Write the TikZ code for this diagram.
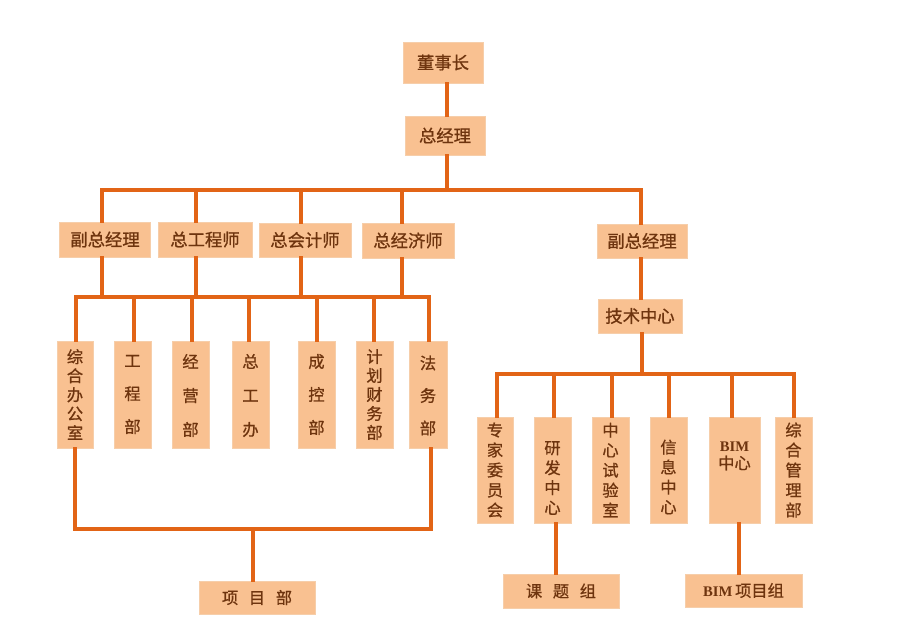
\documentclass[tikz,border=0pt]{standalone}
\usepackage{fontspec}
\setmainfont{Noto Sans CJK SC}[FakeBold=0.8]
\newfontfamily\bimfont{Liberation Serif}
\definecolor{boxfill}{RGB}{249,193,145}
\definecolor{boxedge}{RGB}{246,206,170}
\definecolor{linecol}{RGB}{226,100,22}
\definecolor{txtcol}{RGB}{110,52,14}
\newcommand\obox[8]{%
  \node[box, minimum width=#4*0.75pt, minimum height=#5*0.75pt] (#1) at (#2,#3) {};
  \node[txt, #7] (#1-t) at (#2,#3+#6) {#8};}
\begin{document}
\begin{tikzpicture}[x=0.75pt,y=-0.75pt,
  box/.style={fill=boxfill, draw=boxedge, line width=0.6pt, inner sep=0pt},
  txt/.style={text=txtcol, align=center, inner sep=0pt},
  hz/.style={font=\fontsize{13pt}{15pt}\selectfont},
  vt/.style={font=\fontsize{12.2pt}{#1}\selectfont},
  conn/.style={draw=linecol, line width=2.3pt, line cap=rect}]
\useasboundingbox (0,0) rectangle (900,640);
\fill[white] (0,0) rectangle (900,640);
% top
\obox{dsz}{443}{62.5}{80}{41}{0}{hz}{董事长}
\obox{zjl}{445}{135.5}{80}{39}{0}{hz}{总经理}
% row 2
\obox{fz1}{105}{239.5}{91}{35}{0}{hz}{副总经理}
\obox{zgcs}{205}{239.5}{94}{35}{0}{hz}{总工程师}
\obox{zkjs}{305}{240}{92}{34}{0}{hz}{总会计师}
\obox{zjjs}{408}{240.5}{92}{35}{0}{hz}{总经济师}
\obox{fz2}{642}{241}{90}{34}{0}{hz}{副总经理}
\obox{jszx}{640}{316}{84}{34}{0}{hz}{技术中心}
% row 3 left
\obox{zhbgs}{75}{394.5}{36}{107}{0}{vt=14.25pt}{综\\合\\办\\公\\室}
\obox{gcb}{132.5}{394.5}{37}{107}{0}{vt=24.75pt}{工\\程\\部}
\obox{jyb}{190.5}{394.5}{37}{107}{1}{vt=25.5pt}{经\\营\\部}
\obox{zgb}{250.5}{394.5}{37}{107}{1}{vt=25.5pt}{总\\工\\办}
\obox{ckb}{316.5}{394.5}{37}{107}{0}{vt=24.75pt}{成\\控\\部}
\obox{jhcwb}{374.5}{394.5}{37}{107}{0}{vt=14.25pt}{计\\划\\财\\务\\部}
\obox{fwb}{428}{394.5}{38}{107}{1}{vt=24.4pt}{法\\务\\部}
% row 3 right
\obox{zjwyh}{495}{470}{36}{106}{0}{vt=15pt}{专\\家\\委\\员\\会}
\obox{yfzx}{552.5}{470}{37}{106}{8}{vt=15pt}{研\\发\\中\\心}
\obox{zxsys}{610.5}{470}{37}{106}{0}{vt=15pt}{中\\心\\试\\验\\室}
\obox{xxzx}{668.5}{470}{37}{106}{7}{vt=15pt}{信\\息\\中\\心}
\obox{bimzx}{734.5}{470}{51}{106}{-14}{vt=13.5pt}{{\bimfont\bfseries\fontsize{11pt}{13.5pt}\selectfont BIM}\\中心}
\obox{zhglb}{793.5}{470}{37}{106}{0}{vt=15pt}{综\\合\\管\\理\\部}
% bottom
\obox{xmb}{257}{597.5}{116}{33}{0}{vt=14pt}{项\hspace{8pt}目\hspace{8pt}部}
\obox{ktz}{561}{591}{116}{34}{0}{vt=14pt}{课\hspace{8pt}题\hspace{8pt}组}
\obox{bimxmz}{743.5}{590.5}{117}{33}{0}{vt=14pt}{{\bimfont\bfseries\fontsize{11pt}{14pt}\selectfont BIM}\hspace{2pt}项目组}
% coordinates
\coordinate (tc) at (447,190);
\coordinate (t1) at (102,190);
\coordinate (t2) at (196,190);
\coordinate (t3) at (301,190);
\coordinate (t4) at (402,190);
\coordinate (t5) at (641,190);
\coordinate (m1) at (102,297);
\coordinate (m2) at (196,297);
\coordinate (m3) at (301,297);
\coordinate (m4) at (402,297);
\coordinate (q1) at (76,297);
\coordinate (q2) at (134,297);
\coordinate (q3) at (192,297);
\coordinate (q4) at (249,297);
\coordinate (q5) at (317,297);
\coordinate (q6) at (374,297);
\coordinate (q7) at (429,297);
\coordinate (p1) at (75,529);
\coordinate (p2) at (431,529);
\coordinate (pc) at (253,529);
\coordinate (r0) at (642,374);
\coordinate (r1) at (497,374);
\coordinate (r2) at (554,374);
\coordinate (r3) at (612,374);
\coordinate (r4) at (669,374);
\coordinate (r5) at (732,374);
\coordinate (r6) at (794,374);
\coordinate (s1) at (556,0);
\coordinate (s2) at (739,0);
% connectors
\draw[conn] (dsz.south -| tc) -- (zjl.north -| tc);
\draw[conn] (zjl.south -| tc) -- (tc);
\draw[conn] (t1) -- (t5);
\draw[conn] (t1) -- (fz1.north -| t1);
\draw[conn] (t2) -- (zgcs.north -| t2);
\draw[conn] (t3) -- (zkjs.north -| t3);
\draw[conn] (t4) -- (zjjs.north -| t4);
\draw[conn] (t5) -- (fz2.north -| t5);
\draw[conn] (fz1.south -| m1) -- (m1);
\draw[conn] (zgcs.south -| m2) -- (m2);
\draw[conn] (zkjs.south -| m3) -- (m3);
\draw[conn] (zjjs.south -| m4) -- (m4);
\draw[conn] (q1) -- (q7);
\draw[conn] (q1) -- (zhbgs.north -| q1);
\draw[conn] (q2) -- (gcb.north -| q2);
\draw[conn] (q3) -- (jyb.north -| q3);
\draw[conn] (q4) -- (zgb.north -| q4);
\draw[conn] (q5) -- (ckb.north -| q5);
\draw[conn] (q6) -- (jhcwb.north -| q6);
\draw[conn] (q7) -- (fwb.north -| q7);
\draw[conn] (zhbgs.south -| p1) -- (p1) -- (p2) -- (fwb.south -| p2);
\draw[conn] (pc) -- (xmb.north -| pc);
\draw[conn] (fz2.south -| t5) -- (jszx.north -| t5);
\draw[conn] (jszx.south -| r0) -- (r0);
\draw[conn] (r1) -- (r6);
\draw[conn] (r1) -- (zjwyh.north -| r1);
\draw[conn] (r2) -- (yfzx.north -| r2);
\draw[conn] (r3) -- (zxsys.north -| r3);
\draw[conn] (r4) -- (xxzx.north -| r4);
\draw[conn] (r5) -- (bimzx.north -| r5);
\draw[conn] (r6) -- (zhglb.north -| r6);
\draw[conn] (yfzx.south -| s1) -- (ktz.north -| s1);
\draw[conn] (bimzx.south -| s2) -- (bimxmz.north -| s2);
\end{tikzpicture}
\end{document}
